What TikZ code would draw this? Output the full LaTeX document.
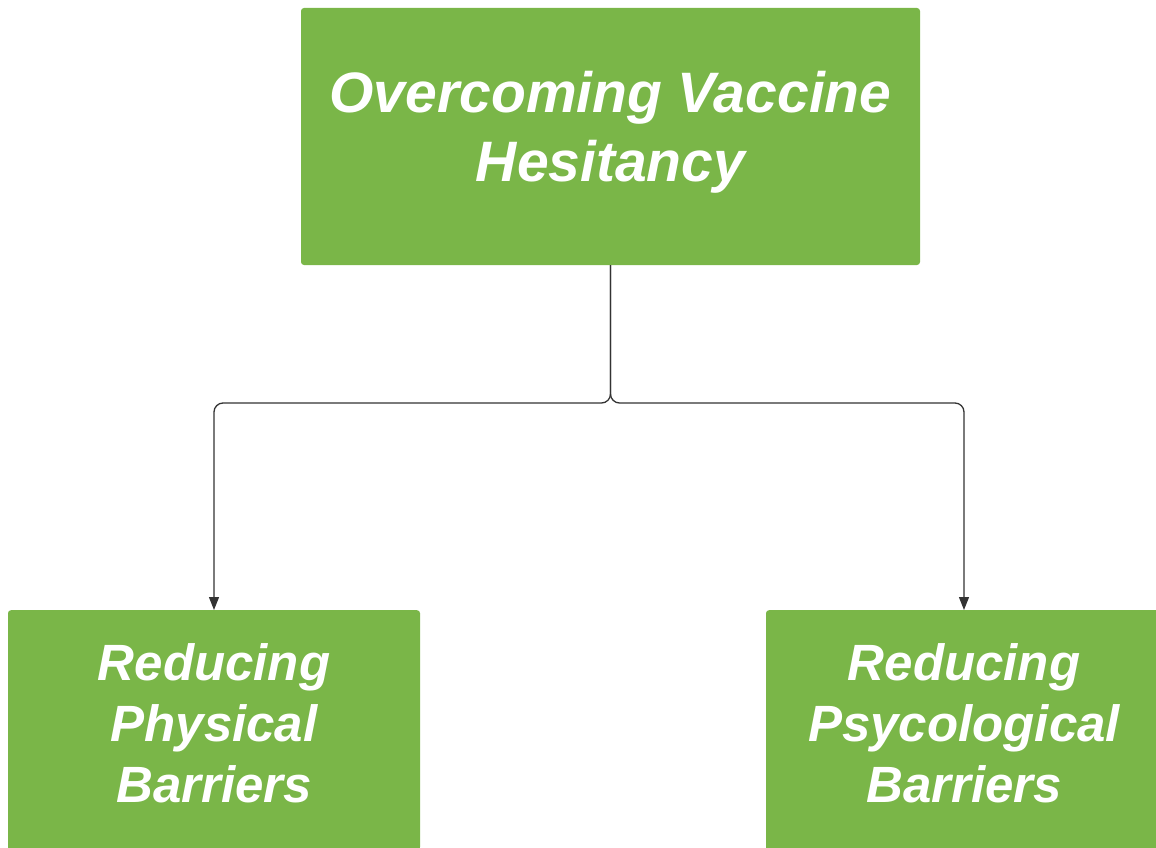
\documentclass[tikz,border=0pt]{standalone}
\usepackage{fontspec}
\setmainfont{Liberation Sans}
\usetikzlibrary{arrows.meta}
\definecolor{boxgreen}{HTML}{7AB648}
\definecolor{linegray}{HTML}{333333}
\tikzset{
  greenbox/.style={fill=boxgreen, draw=none, rounded corners=3pt, text=white,
    font=\bfseries\itshape, align=center, inner sep=0pt, minimum width=#1},
  conn/.style={draw=linegray, line width=1.3pt, rounded corners=9pt,
    -{Triangle[length=13pt,width=10pt]}},
}
\begin{document}
\begin{tikzpicture}[x=1pt,y=-1pt]
\useasboundingbox (0,0) rectangle (1156,848);
\clip (0,0) rectangle (1156,848);
\node[greenbox=619pt, minimum height=257pt] (top) at (610.5,136.5) {};
\node[text=white, align=center, font=\bfseries\itshape\fontsize{57}{69}\selectfont] (tt) at (610.5,132) {Overcoming Vaccine\\Hesitancy};
\node[greenbox=412pt, minimum height=240pt, anchor=north] (left) at (214,610) {};
\node[greenbox=396pt, minimum height=240pt, anchor=north] (right) at (964,610) {};
\node[text=white, align=center, font=\bfseries\itshape\fontsize{51}{61}\selectfont] (lt) at (214,723) {Reducing\\Physical\\Barriers};
\node[text=white, align=center, font=\bfseries\itshape\fontsize{51}{61}\selectfont] (rt) at (964,723) {Reducing\\Psycological\\Barriers};
\coordinate (jl) at (214,403);
\coordinate (jr) at (964,403);
\draw[conn] (top.south) |- (jl) -- (left.north);
\draw[conn] (top.south) |- (jr) -- (right.north);
\end{tikzpicture}
\end{document}
